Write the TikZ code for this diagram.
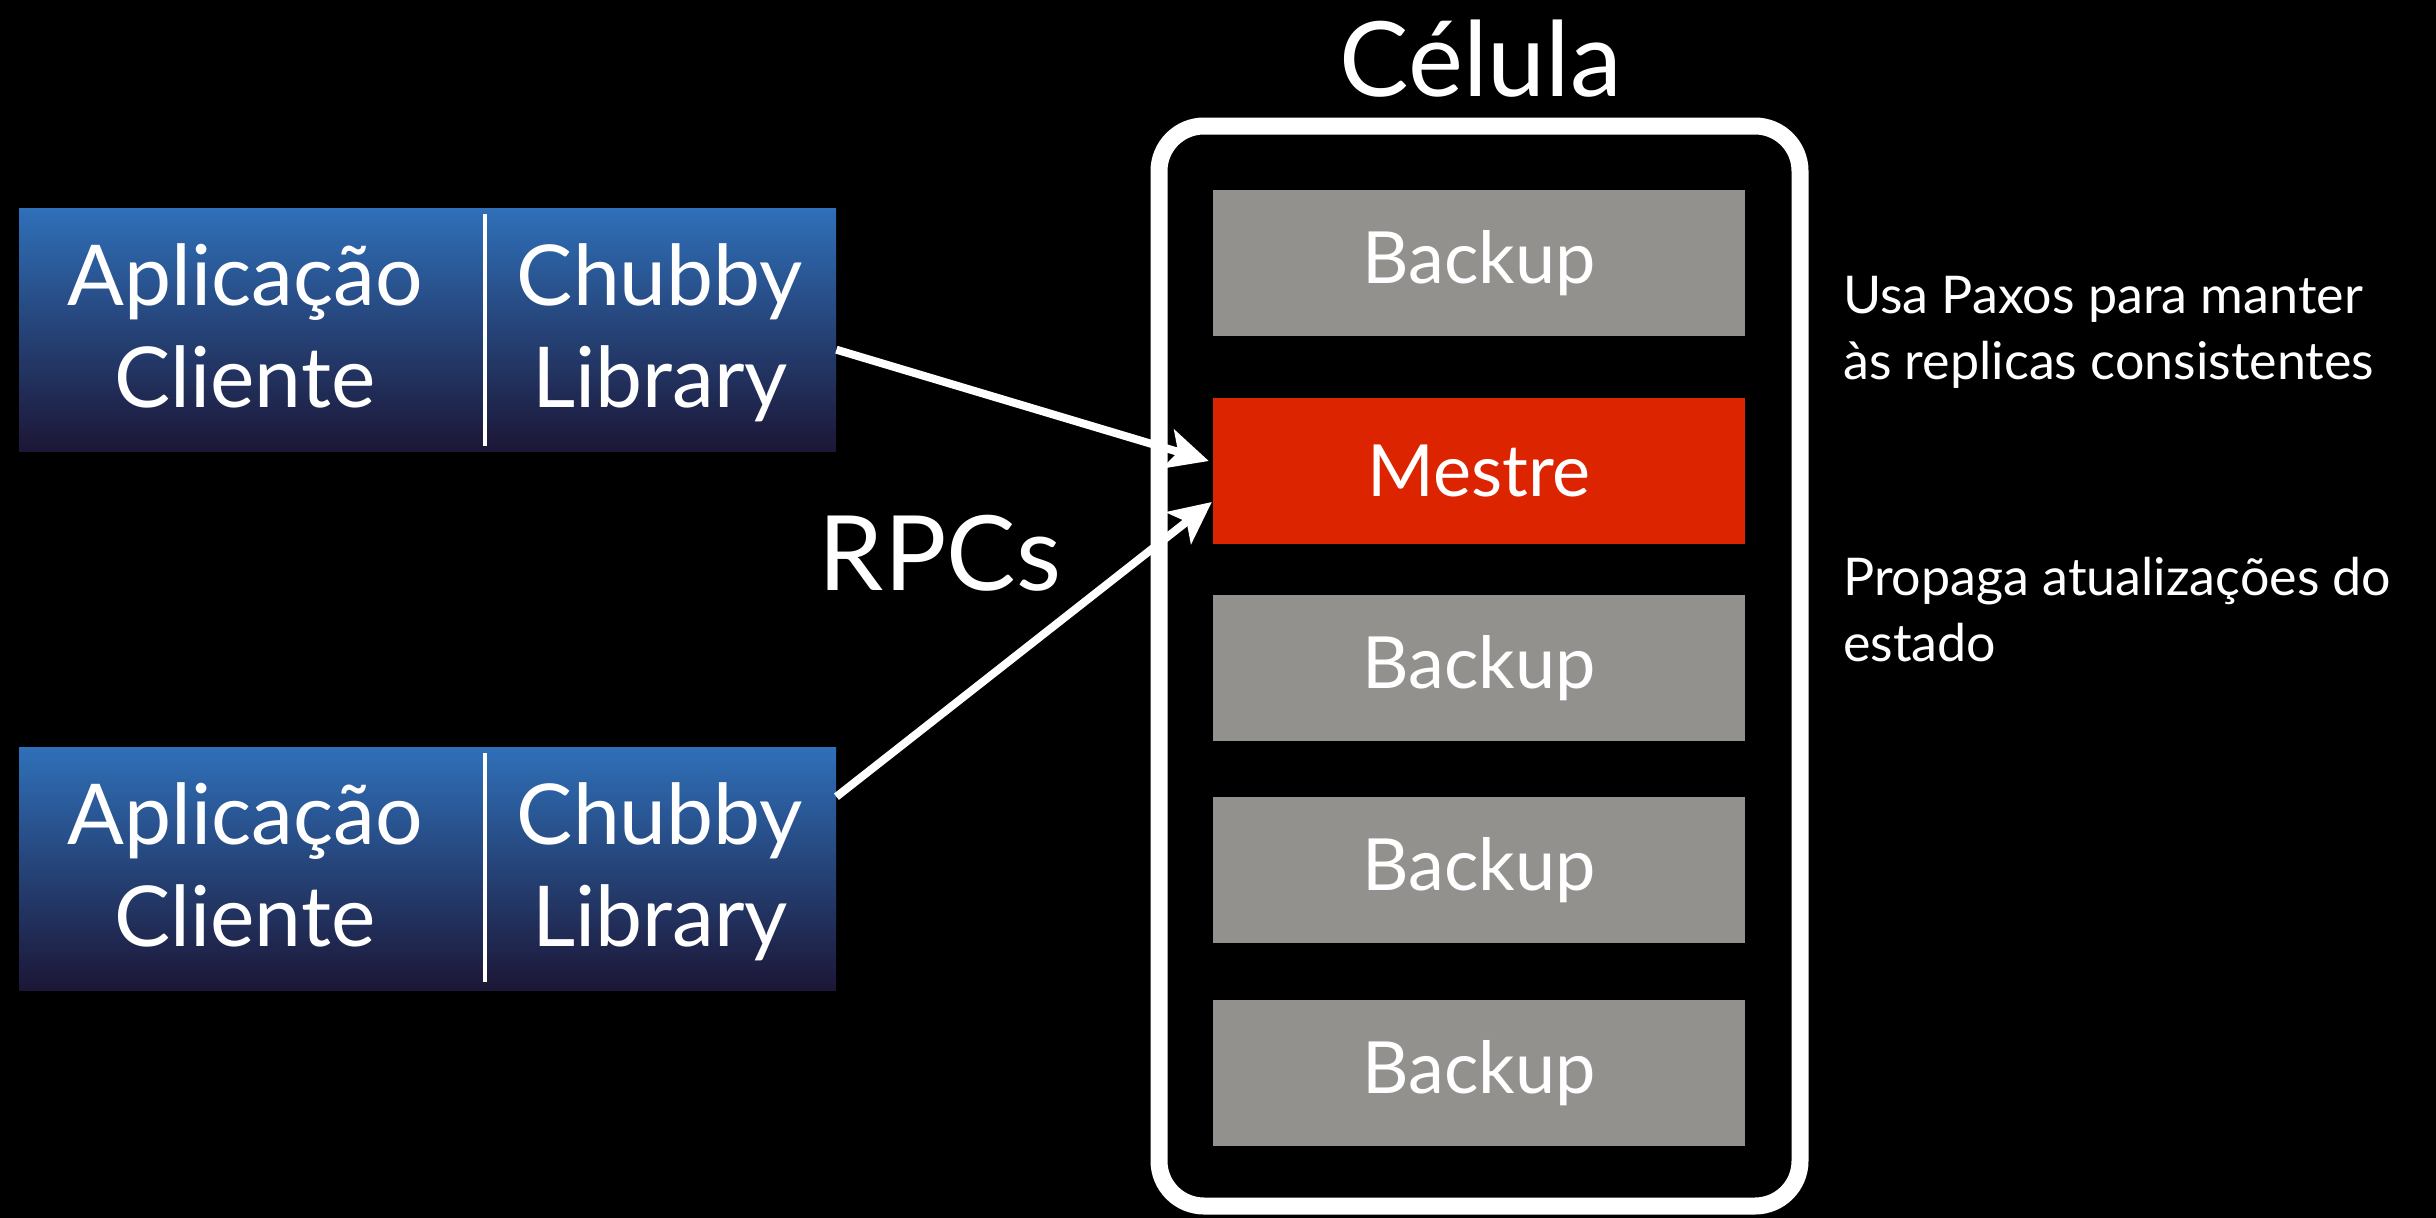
\documentclass[tikz,border=0pt]{standalone}
\usepackage{fontspec}
\setmainfont{Lato}
\usetikzlibrary{arrows.meta}
\definecolor{grayb}{HTML}{92918E}
\definecolor{redm}{HTML}{DC2400}
\definecolor{bluetop}{HTML}{2F70B9}
\definecolor{bluebot}{HTML}{1C1636}
\tikzset{
  clientbox/.style={anchor=north west, minimum width=817pt, minimum height=243pt, inner sep=0pt,
    top color=bluetop, bottom color=bluebot, draw=none},
  clienttxt/.style={text=white, align=center, anchor=base, inner sep=0pt, font=\fontsize{84}{102}\selectfont},
  replica/.style={minimum width=532pt, minimum height=146pt, inner sep=0pt, text=white,
    font=\fontsize{72}{76}\selectfont},
  bigtxt/.style={text=white, font=\fontsize{104}{110}\selectfont, anchor=base},
  notetxt/.style={text=white, align=left, anchor=base west, font=\fontsize{52}{66}\selectfont, inner sep=0pt},
  rpc/.style={draw=white, line width=8pt, -{Stealth[length=42pt,width=40pt,inset=10pt]}},
}
\begin{document}
\begin{tikzpicture}[x=1pt,y=-1pt]
\fill[black] (0,0) rectangle (2436,1218);
\useasboundingbox (0,0) rectangle (2436,1218);

% client boxes
\node[clientbox] (c1) at (19,208) {};
\node[clientbox] (c2) at (19,747) {};
\draw[white, line width=4pt] (485,214) -- (485,446);
\draw[white, line width=4pt] (485,753) -- (485,982);
\node[clienttxt] (a1) at (245,407) {Aplicação\\Cliente};
\node[clienttxt] (l1) at (660,407) {Chubby\\Library};
\node[clienttxt] (a2) at (245,946) {Aplicação\\Cliente};
\node[clienttxt] (l2) at (660,946) {Chubby\\Library};

% cell
\draw[white, line width=17pt, rounded corners=45pt] (1159,126) rectangle (1800,1206);
\node[bigtxt] (cel) at (1481,96) {Célula};

\node[replica, fill=grayb] (b1) at (1479,263) {Backup};
\node[replica, fill=redm] (m) at (1479,471) {Mestre};
\node[replica, fill=grayb] (b2) at (1479,668) {Backup};
\node[replica, fill=grayb] (b3) at (1479,870) {Backup};
\node[replica, fill=grayb] (b4) at (1479,1073) {Backup};

% RPCs
\node[bigtxt] (rpcs) at (940,590) {RPCs};
\draw[rpc] ([yshift=-20pt]c1.east) -- ([yshift=10pt,xshift=-4pt]m.west);
\draw[rpc] ([yshift=72pt]c2.east) -- ([yshift=-31pt,xshift=-1pt]m.west);

% notes
\node[notetxt] (n1) at (1843,379) {Usa Paxos para manter\\às replicas consistentes};
\node[notetxt] (n2) at (1843,661) {Propaga atualizações do\\estado};
\end{tikzpicture}
\end{document}
